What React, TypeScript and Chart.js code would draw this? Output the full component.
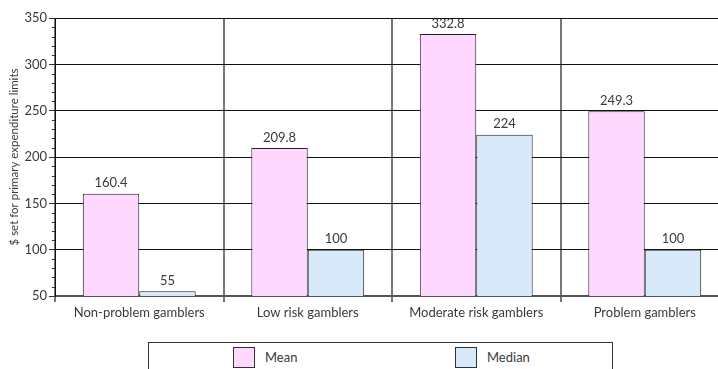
import React, { useEffect, useRef } from "react";
import { Chart, registerables } from "chart.js";

Chart.register(...registerables);

// Gambler groups along the x axis
const categories = [
  "Non-problem gamblers",
  "Low risk gamblers",
  "Moderate risk gamblers",
  "Problem gamblers",
];

// Dollar amounts set for primary expenditure limits
const meanValues = [160.4, 209.8, 332.8, 249.3];
const medianValues = [55, 100, 224, 100];

const seriesNames = ["Mean", "Median"];
const seriesColors = ["#FFD8FF", "#D8EAFA"];

// Value axis range and steps
const yMin = 50;
const yMax = 350;
const yMajorStep = 50;
const yMinorStep = 10;

const yAxisTitle = "$ set for primary expenditure limits";

const FONT_FAMILY = "Lato, 'DejaVu Sans', sans-serif";
const TEXT_COLOR = "#3a3a3a";

// Short tick marks between the labelled steps on the value axis
const minorTicksPlugin = {
  id: "minorTicks",
  afterDraw(chart: any) {
    const scale = chart.scales.y;
    const ctx = chart.ctx;
    ctx.save();
    ctx.strokeStyle = "#333";
    ctx.lineWidth = 1;
    for (let v = yMin; v <= yMax; v += yMinorStep) {
      if (v % yMajorStep === 0) continue;
      const y = Math.round(scale.getPixelForValue(v)) + 0.5;
      ctx.beginPath();
      ctx.moveTo(scale.right - 3, y);
      ctx.lineTo(scale.right, y);
      ctx.stroke();
    }
    ctx.restore();
  },
};

// Value printed above every bar
const valueLabelsPlugin = {
  id: "valueLabels",
  beforeDraw(chart: any) {
    const ctx = chart.ctx;
    ctx.save();
    ctx.font = `13px ${FONT_FAMILY}`;
    ctx.fillStyle = TEXT_COLOR;
    ctx.textAlign = "center";
    ctx.textBaseline = "bottom";
    chart.data.datasets.forEach((ds: any, i: number) => {
      const meta = chart.getDatasetMeta(i);
      meta.data.forEach((bar: any, j: number) => {
        ctx.fillText(String(ds.data[j]), bar.x, bar.y - 4);
      });
    });
    ctx.restore();
  },
};

function ExpenditureChart() {
  const canvasRef = useRef<HTMLCanvasElement | null>(null);

  useEffect(() => {
    if (!canvasRef.current) return;
    const font = { family: FONT_FAMILY, size: 13 };
    const chart = new Chart(canvasRef.current, {
      type: "bar",
      data: {
        labels: categories,
        datasets: [
          {
            label: seriesNames[0],
            data: meanValues,
            backgroundColor: seriesColors[0],
            borderColor: "#222",
            borderWidth: 1,
          },
          {
            label: seriesNames[1],
            data: medianValues,
            backgroundColor: seriesColors[1],
            borderColor: "#222",
            borderWidth: 1,
          },
        ],
      },
      options: {
        animation: false,
        responsive: true,
        maintainAspectRatio: false,
        layout: { padding: { top: 18, right: 1, left: 0, bottom: 0 } },
        datasets: { bar: { barPercentage: 1, categoryPercentage: 0.67 } },
        plugins: {
          legend: { display: false },
          tooltip: { enabled: false },
        },
        scales: {
          x: {
            grid: {
              offset: true,
              color: "#777",
              lineWidth: 2,
              tickLength: 6,
              tickColor: "#777",
            },
            border: { color: "#555", width: 2 },
            ticks: { color: TEXT_COLOR, font, padding: 3 },
            afterFit: (s: any) => {
              s.height = 44;
            },
          },
          y: {
            min: yMin,
            max: yMax,
            ticks: { stepSize: yMajorStep, color: TEXT_COLOR, font, padding: 2 },
            grid: { color: "#111", lineWidth: 1, tickLength: 6, tickColor: "#333" },
            border: { color: "#111", width: 1 },
            title: {
              display: true,
              text: yAxisTitle,
              color: TEXT_COLOR,
              font: { family: FONT_FAMILY, size: 11.5 },
              padding: { top: 7, bottom: 0 },
            },
            afterFit: (s: any) => {
              s.width = 55;
            },
          },
        },
      },
      plugins: [minorTicksPlugin, valueLabelsPlugin],
    });
    return () => chart.destroy();
  }, []);

  return <canvas ref={canvasRef} />;
}

function Legend() {
  return (
    <div
      style={{
        position: "absolute",
        left: 148,
        top: 342,
        width: 465,
        height: 40,
        border: "1px solid #333",
        boxSizing: "border-box",
        fontFamily: FONT_FAMILY,
        fontSize: 13,
        color: TEXT_COLOR,
      }}
    >
      {seriesNames.map((name, i) => (
        <div key={name} style={{ position: "absolute", left: 84 + i * 222, top: 4, height: 21 }}>
          <div
            style={{
              position: "absolute",
              left: 0,
              top: 0,
              width: 22,
              height: 21,
              boxSizing: "border-box",
              border: "1px solid #333",
              background: seriesColors[i],
            }}
          />
          <div style={{ position: "absolute", left: 32, top: 2, whiteSpace: "nowrap", lineHeight: "16px" }}>
            {name}
          </div>
        </div>
      ))}
    </div>
  );
}

export default function App() {
  return (
    <div
      style={{
        position: "fixed",
        left: 0,
        top: 0,
        width: 718,
        height: 369,
        overflow: "hidden",
        background: "#fff",
      }}
    >
      <div style={{ position: "absolute", left: 0, top: 0, width: 730, height: 340 }}>
        <ExpenditureChart />
      </div>
      <Legend />
    </div>
  );
}
